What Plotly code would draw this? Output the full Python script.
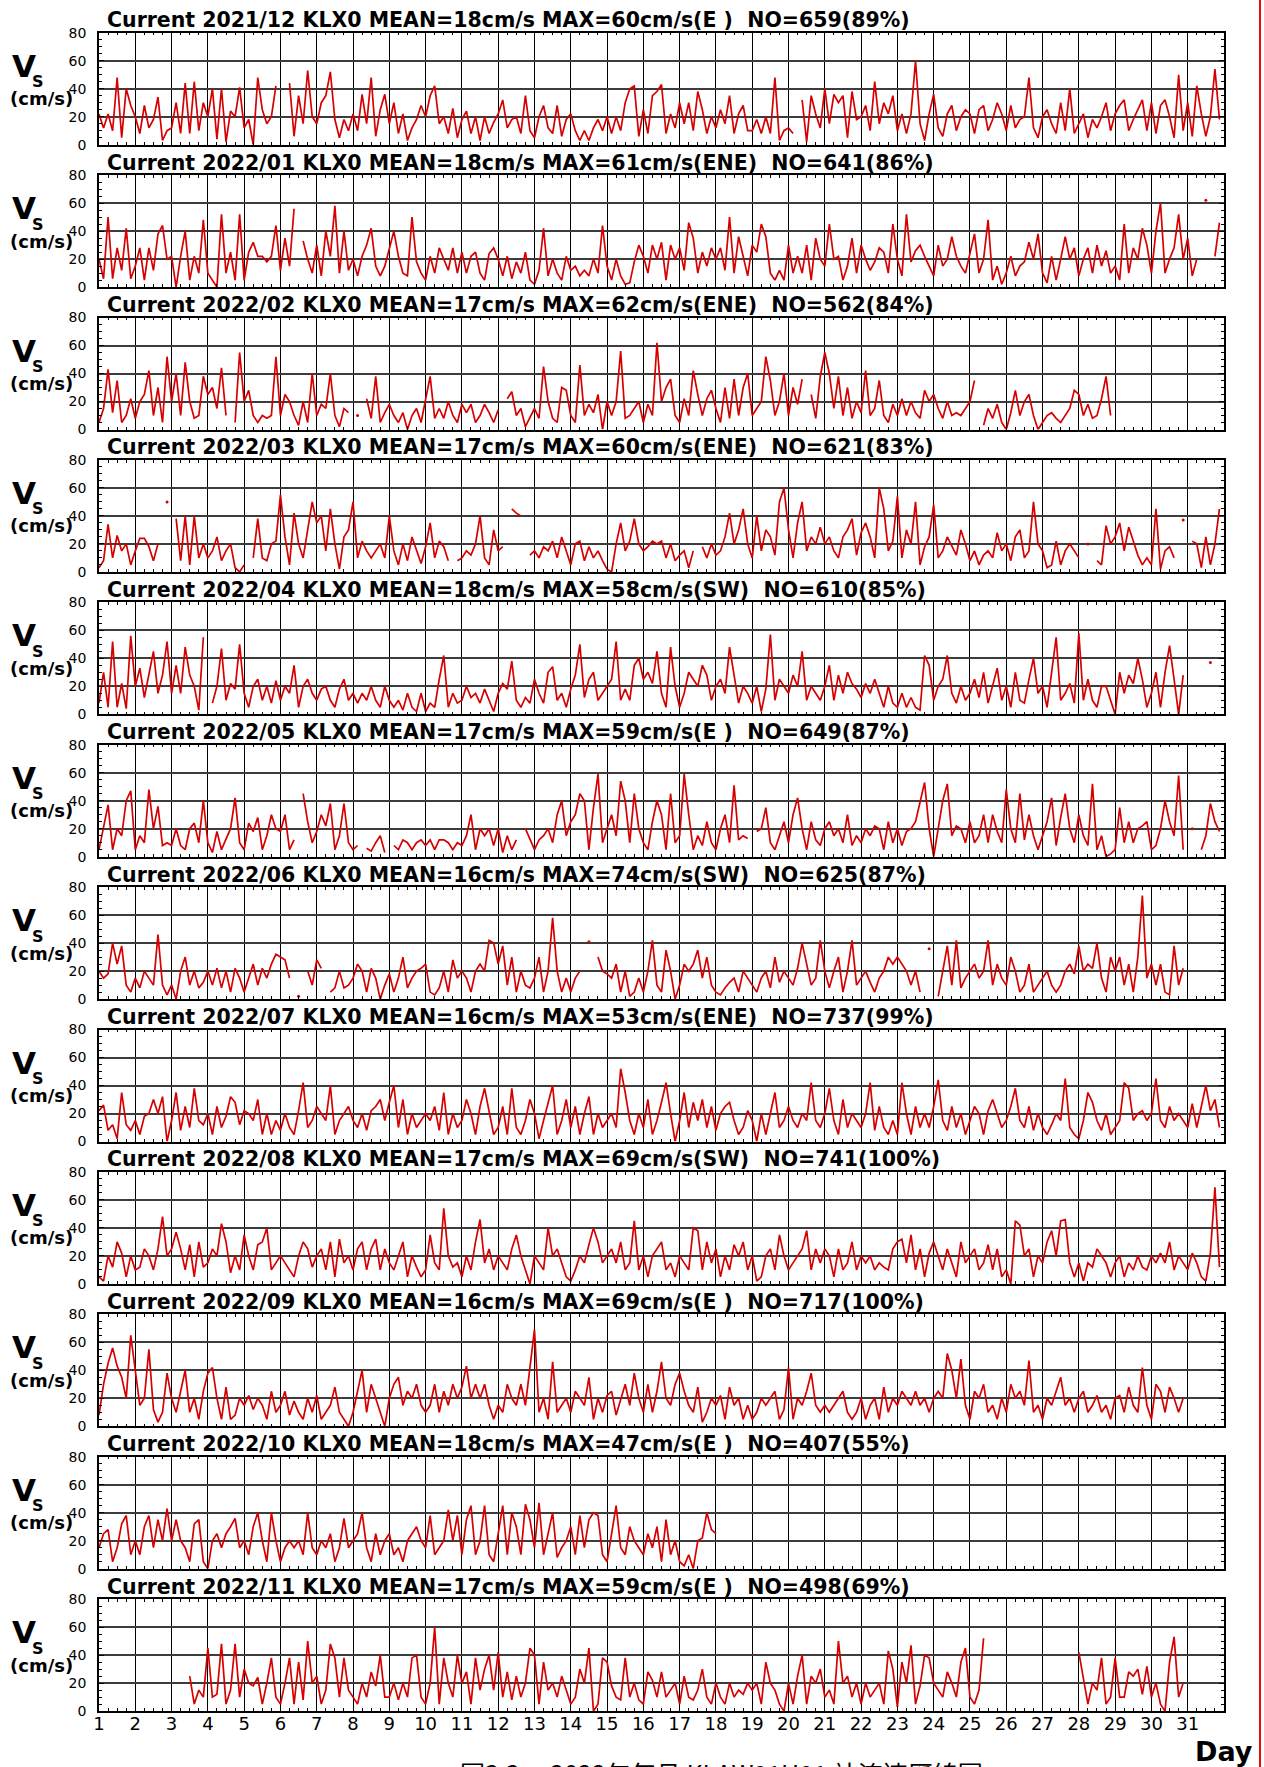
import plotly.graph_objects as go

W, H = 1264, 1767
STEP_HOURS = 3  # sampling interval of the values below (hours)
RED = "#d60000"

titles = [
    "Current 2021/12 KLX0 MEAN=18cm/s MAX=60cm/s(E )\u00a0 NO=659(89%)",
    "Current 2022/01 KLX0 MEAN=18cm/s MAX=61cm/s(ENE)\u00a0 NO=641(86%)",
    "Current 2022/02 KLX0 MEAN=17cm/s MAX=62cm/s(ENE)\u00a0 NO=562(84%)",
    "Current 2022/03 KLX0 MEAN=17cm/s MAX=60cm/s(ENE)\u00a0 NO=621(83%)",
    "Current 2022/04 KLX0 MEAN=18cm/s MAX=58cm/s(SW)\u00a0 NO=610(85%)",
    "Current 2022/05 KLX0 MEAN=17cm/s MAX=59cm/s(E )\u00a0 NO=649(87%)",
    "Current 2022/06 KLX0 MEAN=16cm/s MAX=74cm/s(SW)\u00a0 NO=625(87%)",
    "Current 2022/07 KLX0 MEAN=16cm/s MAX=53cm/s(ENE)\u00a0 NO=737(99%)",
    "Current 2022/08 KLX0 MEAN=17cm/s MAX=69cm/s(SW)\u00a0 NO=741(100%)",
    "Current 2022/09 KLX0 MEAN=16cm/s MAX=69cm/s(E )\u00a0 NO=717(100%)",
    "Current 2022/10 KLX0 MEAN=18cm/s MAX=47cm/s(E )\u00a0 NO=407(55%)",
    "Current 2022/11 KLX0 MEAN=17cm/s MAX=59cm/s(E )\u00a0 NO=498(69%)",
]

day_labels = [str(d) for d in range(1, 32)]
y_ticks = [0, 20, 40, 60, 80]

# speed (cm/s), one row per day, 8 samples per day (every 3 h); None = no data
dec2021 = [
    [22, 12, 22, 10, 48, 5, 40, 28], [20, 8, 28, 12, 18, 34, 3, 10], [12, 30, 8, 44, 8, 45, 10, 30],
    [20, 40, 4, 40, 2, 24, 20, 41], [12, 18, 0, 48, 25, 15, 20, 42], [None, None, 44, 6, 35, 15, 53, 20],
    [15, 30, 35, 52, 18, 5, 18, 10], [22, 10, 36, 15, 48, 6, 25, 36], [15, 30, 8, 22, 3, 12, 18, 28],
    [20, 35, 42, 15, 20, 8, 26, 5], [18, 24, 8, 20, 3, 20, 8, 16], [22, 32, 12, 18, 20, 8, 35, 10],
    [5, 20, 28, 12, 8, 28, 6, 18], [22, 10, 3, 10, 3, 12, 18, 10], [20, 8, 20, 10, 30, 40, 42, 6],
    [25, 8, 35, 38, 43, 8, 22, 12], [30, 15, 30, 10, 38, 25, 8, 20], [12, 25, 15, 35, 8, 22, 28, 10],
    [10, 18, 8, 20, 8, 48, 3, 10], [12, 8, None, 32, 2, 35, 22, 12], [40, 15, 36, 30, 35, 5, 38, 18],
    [20, 28, 10, 45, 15, 30, 22, 35], [10, 22, 8, 22, 60, 15, 3, 22], [36, 12, 6, 22, 28, 10, 20, 25],
    [22, 8, 25, 28, 10, 18, 30, 22], [10, 28, 12, 18, 20, 48, 12, 5], [20, 25, 15, 8, 30, 10, 40, 8],
    [15, 22, 5, 18, 12, 20, 30, 10], [22, 28, 32, 10, 18, 25, 32, 10], [30, 8, 28, 32, 20, 5, 50, 10],
    [30, 6, 42, 22, 6, 20, 54, 18],
]
jan2022 = [
    [20, 6, 50, 6, 28, 12, 42, 6], [15, 28, 5, 28, 12, 38, 44, 20], [22, 0, 22, 40, 5, 22, 10, 48],
    [10, 5, 0, 52, 10, 25, 5, 52], [5, 25, 32, 22, 22, 18, 22, 44], [12, 35, 15, 56, None, 33, 20, 10],
    [30, 8, 40, 22, 58, 10, 40, 12], [20, 8, 22, 30, 42, 15, 8, 15], [28, 40, 22, 10, 8, 50, 18, 10],
    [5, 22, 10, 28, 20, 12, 28, 10], [25, 10, 22, 25, 10, 5, 24, 28], [20, 8, 22, 6, 18, 10, 25, 5],
    [2, 12, 42, 8, 20, 10, 5, 22], [12, 15, 8, 12, 8, 20, 10, 44], [15, 5, 20, 8, 2, 3, 18, 30],
    [22, 10, 30, 20, 32, 5, 30, 20], [28, 12, 46, 35, 10, 25, 15, 28], [20, 28, 12, 50, 10, 36, 22, 8],
    [30, 25, 45, 36, 10, 5, 12, 5], [30, 10, 22, 10, 30, 5, 35, 20], [15, 45, 20, 22, 5, 15, 35, 10],
    [30, 20, 12, 18, 28, 25, 10, 45], [20, 8, 52, 18, 26, 30, 22, 15], [8, 30, 15, 20, 36, 22, 15, 10],
    [25, 38, 10, 20, 48, 5, 15, 2], [10, 22, 8, 15, 18, 32, 20, 38], [10, 3, 22, 5, 20, 36, 20, 28],
    [8, 20, 28, 10, 30, 15, 26, 10], [15, 5, 45, 10, 28, 20, 42, 30], [10, 40, 60, 10, 20, 28, 52, 20],
    [35, 8, 20, None, 62, None, 22, 46],
]
feb2022 = [
    [5, 15, 43, 12, 35, 5, 10, 22], [8, 20, 25, 42, 10, 30, 5, 52], [20, 40, 10, 48, 20, 8, 10, 38],
    [25, 30, 15, 44, 10, None, 5, 55], [20, 28, 10, 5, 10, 8, 10, 52], [10, 25, 20, 10, 3, 20, 5, 40],
    [10, 18, 15, 40, 10, 2, 15, 12], [None, 10, None, 22, 8, 38, 5, 12], [18, 10, 5, 12, 0, 10, 15, 5],
    [22, 38, 8, 15, 8, 20, 10, 5], [18, 12, 18, 5, 10, 18, 12, 5], [14, None, 22, 27, 10, 15, 2, 8],
    [15, 8, 45, 20, 8, 5, 30, 28], [10, 5, 46, 10, 18, 12, 25, 0], [20, 10, 20, 56, 8, 10, 15, 20],
    [5, 18, 10, 62, 20, 30, 36, 10], [5, 22, 10, 42, 25, 10, 22, 28], [15, 5, 30, 8, 36, 10, 30, 40],
    [10, 15, 20, 52, 35, 10, 20, 40], [10, 30, 18, 36, None, 25, 8, 38], [55, 40, 15, 38, 10, 30, 8, 20],
    [12, 42, 10, 15, 35, 10, 5, 18], [10, 22, 10, 20, 12, 8, 28, 20], [25, 15, 8, 20, 10, 12, 10, 15],
    [20, 35, None, 3, 15, 8, 18, 5], [0, 12, 28, 10, 20, 25, 10, 0], [5, 10, 12, 8, 5, 10, 15, 28],
    [25, 10, 18, 8, 10, 22, 38, 10],
]
mar2022 = [
    [3, 8, 34, 10, 26, 15, 20, 5], [15, 24, 24, 18, 8, 20, None, 50], [None, 38, 8, 40, 5, 40, 10, 20],
    [10, 15, 25, 8, 15, 20, 3, 0], [5, None, 10, 38, 10, 8, 20, 22], [55, 25, 5, 42, 20, 10, 30, 50],
    [35, 40, 15, 45, 20, 2, 25, 30], [50, 10, 22, 15, 10, 15, 20, 10], [40, 15, 5, 20, 8, 25, 15, 6],
    [18, 35, 10, 22, 18, 8, None, 8], [10, 15, 12, 20, 40, 10, 5, 30], [15, 18, None, 45, 42, 40, None, 12],
    [15, 10, 18, 15, 22, 10, 25, 15], [5, 20, 22, 8, 18, 10, 15, 8], [2, 0, 20, 35, 15, 22, 38, 20],
    [15, 18, 22, 20, 22, 10, 20, 8], [12, 15, 3, 15, None, 18, 10, 20], [12, 15, 25, 42, 20, 30, 45, 20],
    [10, 40, 15, 30, 25, 12, 50, 60], [30, 10, 35, 50, 15, 25, 20, 32], [20, 25, 15, 10, 25, 30, 38, 12],
    [28, 35, 25, 10, 60, 45, 15, 22], [54, 10, 30, 20, 50, 5, 18, 25], [48, 10, 15, 25, 18, 12, 30, 20],
    [8, 15, 5, 12, 15, 10, 28, 15], [20, 8, 25, 30, 10, 15, 50, 20], [15, 3, 5, 22, 5, 15, 20, 15],
    [10, None, 20, None, 8, 5, 33, 20], [25, 35, 15, 32, 22, 12, 5, 10], [5, 45, 2, 15, 18, 10, None, 37],
    [None, 22, 20, 3, 25, 5, 20, 45],
]
apr2022 = [
    [8, 30, 5, 52, 5, 22, 4, 56], [20, 33, 12, 30, 45, 15, 28, 52], [15, 35, 15, 48, 28, 20, 3, 55],
    [None, 8, 20, 47, 10, 22, 18, 50], [15, 5, 20, 25, 10, 20, 8, 24], [10, 20, 15, 35, 5, 20, 25, 15],
    [10, 18, 20, 10, 5, 18, 25, 10], [15, 8, 15, 10, 20, 10, 5, 20], [10, 5, 10, 3, 15, 5, 2, 15],
    [2, 8, 5, 25, 42, 5, 15, 8], [10, 20, 12, 15, 8, 18, 10, 2], [15, 22, 18, 38, 10, 5, 12, 8],
    [25, 15, 8, 30, 34, 10, 15, 5], [18, 28, 50, 12, 25, 30, 10, 15], [20, 25, 52, 10, 18, 10, 35, 40],
    [25, 30, 22, 45, 15, 5, 48, 20], [5, 15, 30, 25, 20, 35, 28, 10], [20, 25, 15, 48, 28, 8, 20, 15],
    [8, 20, 2, 18, 57, 10, 25, 20], [15, 28, 20, 45, 10, 20, 15, 10], [20, 35, 10, 28, 15, 30, 22, 18],
    [12, 22, 15, 25, 15, 5, 20, 8], [5, 15, 5, 12, 5, 3, 42, 35], [10, 20, 25, 42, 15, 8, 20, 10],
    [15, 25, 12, 30, 8, 20, 33, 10], [20, 5, 30, 10, 8, 25, 40, 15], [20, 5, 30, 55, 10, 15, 22, 8],
    [58, 10, 25, 10, 5, 20, 20, 10], [0, 30, 15, 28, 22, 40, 25, 5], [15, 30, 5, 30, 49, 25, 0, 28],
    [None, None, None, None, None, 37, None, None],
]
may2022 = [
    [5, 20, 37, 5, 20, 15, 40, 47], [5, 15, 10, 48, 20, 36, 8, 10], [8, 20, 8, 5, 20, 24, 10, 40],
    [10, 3, 18, 5, 12, 20, 42, 10], [5, 24, 18, 28, 5, 15, 30, 20], [18, 30, 5, 12, None, 45, 25, 10],
    [18, 30, 22, 38, 5, 15, 38, 10], [5, 8, None, 6, 4, 10, 15, 3], [None, 8, 5, 12, 10, 5, 10, 12],
    [8, 12, 5, 12, 12, 10, 5, 10], [8, 15, 30, 5, 20, 15, 20, 8], [20, 3, 15, 5, 12, None, 20, 12],
    [5, 12, 15, 20, 10, 30, 40, 15], [25, 30, 45, 40, 5, 35, 59, 10], [20, 30, 15, 54, 40, 10, 45, 20],
    [10, 5, 25, 40, 30, 5, 45, 10], [15, 59, 30, 5, 15, 8, 25, 10], [5, 20, 30, 10, 51, 12, 15, 13],
    [None, 18, 20, 35, 10, 5, 15, 25], [10, 30, 42, 20, 5, 25, 12, 8], [20, 25, 15, 20, 10, 30, 8, 15],
    [10, 20, 15, 22, 20, 5, 25, 10], [20, 8, 18, 20, 25, 40, 53, 20], [0, 20, 40, 52, 15, 22, 20, 10],
    [25, 10, 15, 30, 10, 30, 18, 10], [48, 20, 10, 45, 12, 30, 15, 5], [15, 25, 42, 8, 28, 45, 20, 10],
    [30, 15, 8, 52, 5, 15, 0, 2], [5, 35, 10, 25, 10, 20, 22, 25], [5, 8, 20, 40, 25, 15, 58, 5],
    [None, 20, None, 5, 15, 38, 25, 18],
]
jun2022 = [
    [20, 15, 18, 40, 25, 38, 10, 5], [15, 8, 20, 15, 10, 46, 10, 3], [10, 0, 20, 30, 10, 20, 8, 12],
    [20, 10, 22, 8, 20, 5, 22, 15], [5, 15, 25, 10, 22, 15, 25, 32], [30, 28, 15, None, 2, None, 20, 10],
    [28, 22, None, 5, 8, 20, 8, 10], [15, 25, 20, 5, 22, 15, 0, 10], [18, 5, 15, 30, 8, 15, 20, 22],
    [25, 5, 3, 8, 20, 5, 28, 15], [20, 15, 5, 20, 25, 20, 42, 40], [25, 38, 10, 30, 5, 20, 10, 8],
    [15, 30, 5, 20, 58, 20, 5, 15], [5, 15, 20, None, 41, None, 30, 20], [18, 15, 25, 5, 20, 2, 5, 15],
    [5, 20, 42, 10, 5, 35, 20, 0], [10, 25, 20, 25, 35, 15, 30, 10], [5, 3, 8, 12, 15, 5, 20, 15],
    [10, 5, 15, 20, 8, 30, 12, 20], [15, 10, 22, 40, 25, 10, 15, 42], [20, 8, 20, 30, 5, 20, 42, 10],
    [15, 20, 12, 5, 15, 20, 30, 25], [30, 25, 20, 10, 20, 5, None, 36], [None, 2, 20, 38, 10, 42, 8, 15],
    [20, 25, 15, 20, 42, 10, 25, 15], [10, 30, 20, 5, 10, 25, 5, 10], [15, 20, 10, 5, 10, 20, 25, 18],
    [38, 20, 25, 22, 40, 15, 5, 30], [20, 30, 10, 25, 5, 30, 74, 15], [25, 10, 25, 5, 3, 38, 10, 22],
]
jul2022 = [
    [22, 26, 8, 12, 2, 35, 12, 8], [15, 5, 18, 20, 30, 20, 32, 0], [15, 35, 8, 25, 10, 38, 15, 12],
    [20, 5, 25, 10, 18, 32, 28, 12], [22, 20, 15, 30, 5, 20, 5, 15], [8, 20, 10, 5, 22, 42, 10, 15],
    [25, 20, 15, 40, 5, 15, 20, 25], [15, 10, 20, 8, 22, 25, 30, 15], [28, 40, 10, 30, 5, 20, 10, 15],
    [20, 15, 25, 8, 35, 5, 20, 10], [15, 30, 20, 5, 25, 38, 20, 5], [10, 25, 5, 38, 10, 5, 15, 30],
    [20, 2, 15, 28, 40, 5, 15, 30], [10, 25, 5, 20, 32, 5, 20, 10], [15, 20, 10, 52, 35, 15, 5, 20],
    [10, 30, 5, 15, 28, 42, 20, 0], [15, 35, 10, 28, 15, 30, 10, 25], [8, 20, 25, 28, 15, 5, 10, 22],
    [15, 0, 20, 5, 20, 35, 10, 15], [25, 15, 10, 20, 15, 42, 15, 10], [20, 38, 15, 5, 30, 10, 20, 15],
    [10, 20, 42, 8, 25, 10, 5, 15], [5, 42, 20, 5, 25, 10, 20, 10], [25, 44, 15, 8, 25, 10, 20, 5],
    [15, 25, 20, 5, 22, 30, 20, 10], [15, 25, 38, 15, 10, 25, 8, 20], [10, 5, 12, 20, 15, 45, 10, 5],
    [2, 15, 35, 28, 15, 8, 20, 5], [10, 15, 42, 38, 15, 20, 22, 15], [20, 45, 15, 10, 25, 15, 20, 15],
    [10, 27, 10, 25, 40, 22, 30, 10],
]
aug2022 = [
    [5, 2, 20, 12, 30, 22, 5, 20], [10, 12, 25, 20, 10, 25, 48, 20], [25, 37, 25, 10, 28, 5, 30, 12],
    [15, 25, 20, 43, 30, 8, 20, 10], [35, 20, 10, 28, 30, 40, 10, 15], [20, 15, 10, 5, 20, 30, 25, 12],
    [20, 25, 10, 30, 5, 32, 15, 20], [10, 25, 30, 10, 25, 32, 10, 25], [15, 10, 20, 30, 5, 20, 12, 5],
    [10, 35, 15, 10, 54, 20, 12, 15], [5, 20, 10, 30, 46, 15, 25, 10], [20, 15, 10, 25, 35, 20, 10, 0],
    [20, 15, 10, 40, 20, 25, 15, 5], [2, 10, 20, 15, 28, 40, 30, 15], [20, 25, 15, 30, 10, 15, 45, 10],
    [20, 5, 20, 25, 30, 10, 15, 5], [20, 15, 10, 40, 38, 10, 30, 15], [25, 5, 20, 10, 28, 20, 30, 10],
    [20, 2, 5, 20, 25, 10, 35, 20], [10, 15, 20, 25, 38, 10, 25, 15], [25, 20, 5, 25, 10, 15, 30, 10],
    [20, 15, 20, 10, 15, 12, 10, 25], [30, 32, 15, 35, 10, 25, 5, 22], [30, 20, 10, 25, 15, 5, 30, 15],
    [20, 25, 10, 15, 28, 10, 25, 5], [10, 0, 45, 42, 20, 25, 5, 20], [15, 30, 38, 20, 45, 46, 15, 5],
    [15, 2, 15, 12, 25, 20, 15, 5], [15, 20, 5, 15, 10, 20, 12, 10], [20, 15, 22, 15, 30, 10, 20, 15],
    [10, 22, 15, 5, 2, 22, 69, 12],
]
sep2022 = [
    [8, 30, 45, 56, 43, 35, 20, 65], [40, 15, 20, 55, 12, 3, 10, 38], [20, 10, 25, 40, 10, 20, 5, 25],
    [38, 42, 20, 5, 28, 5, 8, 20], [15, 22, 12, 20, 15, 5, 25, 10], [15, 25, 8, 18, 10, 5, 20, 10],
    [22, 5, 10, 15, 28, 10, 5, 0], [10, 25, 40, 10, 30, 20, 10, 0], [20, 30, 35, 15, 25, 20, 30, 15],
    [10, 15, 30, 10, 25, 15, 30, 20], [28, 43, 20, 30, 20, 30, 15, 5], [15, 10, 30, 20, 15, 30, 15, 40],
    [69, 10, 20, 5, 46, 10, 15, 20], [10, 25, 20, 15, 35, 5, 20, 10], [22, 25, 8, 20, 30, 15, 38, 20],
    [10, 30, 10, 25, 46, 20, 15, 30], [38, 25, 15, 10, 28, 3, 10, 20], [15, 22, 5, 28, 15, 20, 5, 15],
    [5, 10, 20, 15, 20, 25, 5, 12], [42, 5, 20, 15, 25, 38, 15, 10], [15, 10, 15, 20, 25, 10, 5, 10],
    [20, 5, 15, 20, 5, 28, 10, 20], [15, 25, 20, 15, 25, 15, 20, 10], [20, 25, 20, 52, 40, 20, 48, 15],
    [5, 25, 20, 30, 10, 15, 5, 20], [10, 30, 20, 25, 15, 47, 10, 15], [5, 20, 15, 25, 35, 15, 20, 10],
    [20, 25, 10, 15, 22, 10, 15, 5], [20, 22, 10, 28, 15, 10, 42, 15], [5, 30, 25, 10, 28, 20, 10, 20],
]
oct2022 = [
    [15, 25, 28, 5, 15, 32, 38, 10], [20, 10, 30, 38, 15, 35, 20, 43], [20, 35, 20, 15, 5, 32, 35, 5],
    [0, 20, 25, 15, 25, 30, 36, 15], [20, 10, 30, 40, 20, 5, 40, 20], [5, 15, 20, 15, 20, 10, 40, 15],
    [10, 20, 15, 25, 5, 15, 36, 15], [20, 25, 40, 15, 5, 25, 10, 20], [25, 10, 15, 5, 20, 25, 30, 20],
    [15, 38, 10, 15, 20, 42, 20, 38], [10, 35, 45, 10, 20, 45, 10, 5], [25, 45, 10, 40, 30, 10, 46, 35],
    [15, 47, 10, 25, 40, 8, 15, 20], [30, 10, 38, 15, 35, 40, 38, 10], [5, 25, 45, 15, 10, 30, 20, 15],
    [10, 25, 15, 30, 5, 35, 10, 20], [5, 2, 10, 0, 20, 22, 40, 28], [25],
]
nov2022 = [
    [None, None, None, None, None, None, None, None], [None, None, None, None, None, None, None, None],
    [None, None, None, None, 25, 5, 15, 10], [45, 10, 12, 48, 5, 15, 48, 10], [30, 20, 18, 24, 5, 20, 38, 10],
    [5, 20, 38, 5, 35, 8, 50, 20], [25, 5, 15, 48, 38, 10, 38, 15], [10, 5, 20, 10, 28, 18, 40, 10],
    [10, 20, 8, 20, 10, 38, 40, 10], [5, 20, 60, 5, 38, 20, 10, 40], [20, 28, 5, 38, 15, 30, 40, 15],
    [42, 10, 28, 8, 25, 10, 20, 45], [40, 5, 35, 15, 20, 10, 25, 15], [5, 10, 30, 20, 45, 0, 5, 38],
    [35, 18, 10, 8, 38, 10, 20, 8], [5, 28, 22, 10, 28, 10, 15, 20], [5, 25, 10, 8, 15, 30, 10, 5],
    [20, 10, 5, 20, 10, 15, 12, 20], [15, 20, 5, 35, 20, 15, 5, 0], [20, 5, 25, 40, 5, 25, 20, 30],
    [10, 15, 5, 50, 20, 25, 10, 20], [5, 20, 10, 15, 20, 5, 43, 30], [3, 35, 20, 47, 5, 18, 40, 38],
    [20, 15, 10, 28, 20, 10, 35, 45], [10, 5, 15, 52, None, None, None, None],
    [None, None, None, None, None, None, None, None], [None, None, None, None, None, None, None, None],
    [42, 22, 5, 20, 15, 38, 5, 10], [38, 10, 10, 28, 25, 30, 12, 32], [10, 20, 5, 0, 35, 53, 10, 20],
]

months = [dec2021, jan2022, feb2022, mar2022, apr2022, may2022,
          jun2022, jul2022, aug2022, sep2022, oct2022, nov2022]

# ---- layout geometry (pixels) ----
X0, X1 = 99, 1224
TOP0, PITCH, PH = 32.7, 142.4, 112


def py(px):
    return 1 - px / H


fig = go.Figure()
layout = {}
annotations = []

for k, rows in enumerate(months):
    vals = [v for row in rows for v in row]
    xs = [1 + i * STEP_HOURS / 24 for i in range(len(vals))]
    sfx = "" if k == 0 else str(k + 1)
    fig.add_trace(go.Scatter(x=xs, y=vals, mode="lines", connectgaps=False,
                             line=dict(color=RED, width=1.7),
                             xaxis="x" + sfx, yaxis="y" + sfx,
                             showlegend=False, hoverinfo="skip"))
    iso = [i for i, v in enumerate(vals)
           if v is not None and (i == 0 or vals[i - 1] is None)
           and (i == len(vals) - 1 or vals[i + 1] is None)]
    if iso:
        fig.add_trace(go.Scatter(x=[xs[i] for i in iso], y=[vals[i] for i in iso],
                                 mode="markers", marker=dict(color=RED, size=3),
                                 xaxis="x" + sfx, yaxis="y" + sfx,
                                 showlegend=False, hoverinfo="skip"))

    top = TOP0 + PITCH * k
    bot = top + PH
    last = (k == len(months) - 1)
    layout["xaxis" + sfx] = dict(
        domain=[X0 / W, X1 / W], range=[1, 32], anchor="y" + sfx, automargin=False,
        tickmode="array", tickvals=list(range(1, 32)), ticktext=day_labels,
        showticklabels=last, showgrid=True, gridcolor="black", gridwidth=1,
        ticks="inside", ticklen=5, tickcolor="black", mirror="allticks",
        showline=True, linecolor="black", linewidth=1.5, zeroline=False,
        minor=dict(tickmode="linear", tick0=1, dtick=0.25, ticks="inside",
                   ticklen=3, tickcolor="black", showgrid=False),
        tickfont=dict(family="DejaVu Sans", size=18, color="black"),
        ticklabelstandoff=-4,
    )
    layout["yaxis" + sfx] = dict(
        domain=[py(bot), py(top)], range=[0, 80], anchor="x" + sfx, automargin=False,
        tickmode="array", tickvals=y_ticks, ticktext=[str(t) for t in y_ticks],
        showgrid=True, gridcolor="#3c3c3c", gridwidth=1.6,
        ticks="inside", ticklen=5, tickcolor="black", mirror="allticks",
        showline=True, linecolor="black", linewidth=1.5, zeroline=False,
        minor=dict(tickmode="linear", tick0=0, dtick=5, ticks="inside",
                   ticklen=3, tickcolor="black", showgrid=False),
        tickfont=dict(family="DejaVu Sans", size=14, color="black"),
        ticklabelstandoff=8,
    )
    annotations.append(dict(text="<b>" + titles[k] + "</b>", xref="paper", yref="paper",
                            x=105 / W, y=py(top - 12.5), xanchor="left", yanchor="middle",
                            showarrow=False,
                            font=dict(family="DejaVu Sans", size=20.5, color="black")))
    annotations.append(dict(text="<b>V</b>", xref="paper", yref="paper",
                            x=24 / W, y=py(top + 33), xanchor="center", yanchor="middle",
                            showarrow=False, font=dict(family="DejaVu Sans", size=31, color="black")))
    annotations.append(dict(text="<b>S</b>", xref="paper", yref="paper",
                            x=38 / W, y=py(top + 49), xanchor="center", yanchor="middle",
                            showarrow=False, font=dict(family="DejaVu Sans", size=16, color="black")))
    annotations.append(dict(text="<b>(cm/s)</b>", xref="paper", yref="paper",
                            x=41 / W, y=py(top + 66), xanchor="center", yanchor="middle",
                            showarrow=False, font=dict(family="DejaVu Sans", size=18, color="black")))

annotations.append(dict(text="<b>Day</b>", xref="paper", yref="paper",
                        x=1224 / W, y=py(1751), xanchor="center", yanchor="middle",
                        showarrow=False, font=dict(family="DejaVu Sans", size=27, color="black")))
annotations.append(dict(text="圖3.3\u3000 2022年每月 KLAW01H01 站流速歷線圖", xref="paper", yref="paper",
                        x=721 / W, y=py(1753), xanchor="center", yanchor="top",
                        showarrow=False,
                        font=dict(family="Noto Sans CJK TC", size=25, color="black")))

layout.update(
    width=W, height=H,
    margin=dict(l=0, r=0, t=0, b=0, pad=0, autoexpand=False),
    paper_bgcolor="white", plot_bgcolor="white",
    annotations=annotations,
    shapes=[dict(type="line", xref="paper", yref="paper",
                 x0=1260 / W, x1=1260 / W, y0=0, y1=1,
                 line=dict(color="#e01010", width=2))],
)
fig.update_layout(**layout)
fig.write_html("out.html",
               config={"displayModeBar": False},
               post_script="document.body.style.margin='0px';"
                           "document.body.style.overflow='hidden';")
